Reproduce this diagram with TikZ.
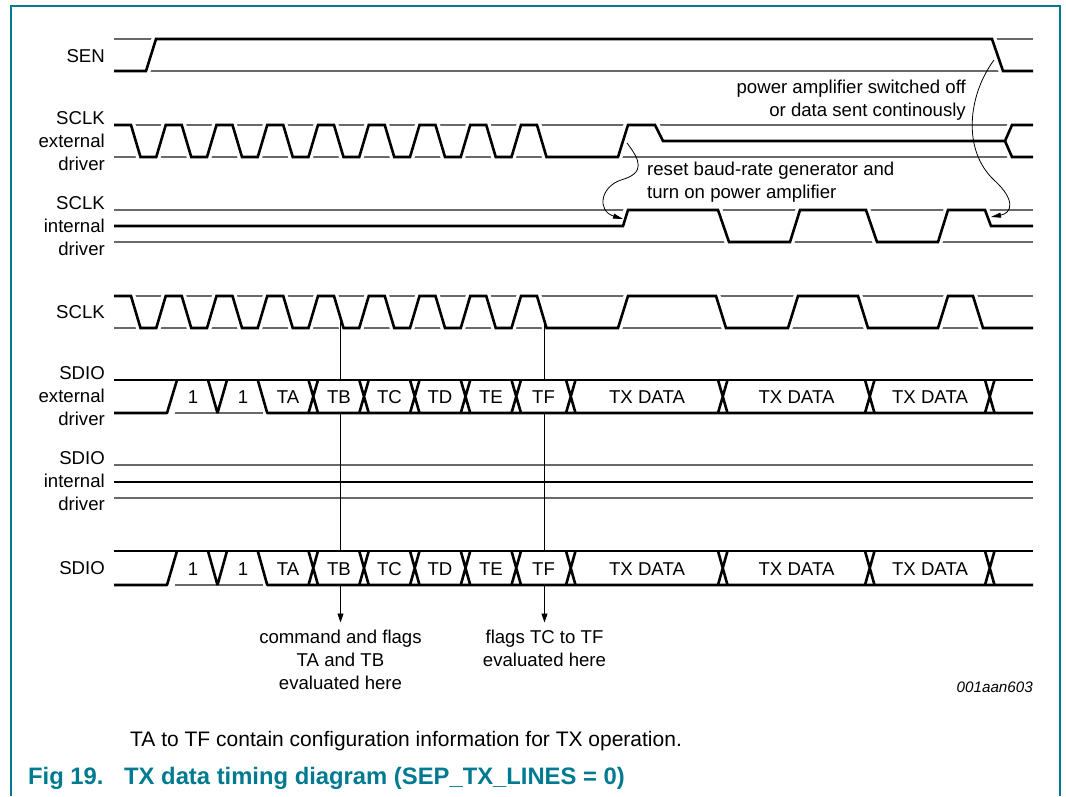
\documentclass[tikz,border=0pt]{standalone}
\usepackage{fontspec}
\setmainfont{Liberation Sans}
\usetikzlibrary{arrows.meta}
\definecolor{nxpteal}{RGB}{0,122,144}
\definecolor{refgray}{RGB}{105,105,105}
\begin{document}
\begin{tikzpicture}[x=1pt,y=-1pt,
  sig/.style={line width=2.6pt,line join=miter,preaction={draw=white,line width=9pt}},
  bus/.style={line width=2.6pt,line join=bevel},
  ref/.style={line width=1.1pt,draw=refgray},
  conn/.style={line width=0.9pt},
  lbl/.style={anchor=east,align=right,inner sep=0pt,font=\fontsize{18.6}{23}\selectfont},
  cell/.style={inner sep=0pt,font=\fontsize{18.6}{23}\selectfont},
  note/.style={inner sep=0pt,font=\fontsize{18.6}{23}\selectfont},
  downarrow/.style={conn,-{Triangle[length=9pt,width=6pt]}},
  curvearrow/.style={line width=0.8pt,-{Triangle[length=10pt,width=5pt]}}
]
\useasboundingbox (0,0) rectangle (1066,796);
% frame
\draw[nxpteal,line width=1.5pt] (11,796) -- (11,6) -- (1060,6) -- (1060,796);

% labels
\node[lbl] (lsen)   at (105,56)  {SEN};
\node[lbl] (lsclkx) at (105,141) {SCLK\\external\\driver};
\node[lbl] (lsclki) at (105,226) {SCLK\\internal\\driver};
\node[lbl] (lsclk)  at (105,312) {SCLK};
\node[lbl] (lsdiox) at (105,396) {SDIO\\external\\driver};
\node[lbl] (lsdioi) at (105,481) {SDIO\\internal\\driver};
\node[lbl] (lsdio)  at (105,568) {SDIO};

% SEN
\draw[ref] (114,39) -- (1033,39);
\draw[ref] (114,71) -- (1033,71);
\draw[sig] (114,71) -- (146,71) -- (156,39) -- (992,39) -- (1003,71) -- (1033,71);

% SCLK external driver
\draw[ref] (114,125) -- (1033,125);
\draw[ref] (114,157) -- (1033,157);
\draw[sig] (114,125) -- (131,125) -- (140.5,157) -- (156.25,157) -- (165.75,125)
  -- (181.75,125) -- (191.25,157) -- (207,157) -- (216.5,125)
  -- (232.5,125) -- (242,157) -- (257.75,157) -- (267.25,125)
  -- (283.25,125) -- (292.75,157) -- (308.5,157) -- (318,125)
  -- (334,125) -- (343.5,157) -- (359.25,157) -- (368.75,125)
  -- (384.75,125) -- (394.25,157) -- (410,157) -- (419.5,125)
  -- (435.5,125) -- (445,157) -- (460.75,157) -- (470.25,125)
  -- (486.25,125) -- (495.75,157) -- (511.5,157) -- (521,125)
  -- (537,125) -- (546.5,157) -- (618,157) -- (628,125) -- (655,125) -- (663,141)
  -- (1005,141) -- (1012,125) -- (1033,125)
  (1005,141) -- (1012,157) -- (1033,157);

% SCLK internal driver
\draw[ref] (114,210) -- (1033,210);
\draw[ref] (114,242) -- (1033,242);
\draw[sig] (114,226) -- (623,226) -- (628,210) -- (718,210) -- (729,242) -- (790,242)
  -- (800,210) -- (866,210) -- (877,242) -- (938,242) -- (948,210) -- (985,210)
  -- (991,226) -- (1033,226);

% SCLK
\draw[ref] (114,296) -- (1033,296);
\draw[ref] (114,328) -- (1033,328);
\draw[sig] (114,296) -- (131,296) -- (140.5,328) -- (156.25,328) -- (165.75,296)
  -- (181.75,296) -- (191.25,328) -- (207,328) -- (216.5,296)
  -- (232.5,296) -- (242,328) -- (257.75,328) -- (267.25,296)
  -- (283.25,296) -- (292.75,328) -- (308.5,328) -- (318,296)
  -- (334,296) -- (343.5,328) -- (359.25,328) -- (368.75,296)
  -- (384.75,296) -- (394.25,328) -- (410,328) -- (419.5,296)
  -- (435.5,296) -- (445,328) -- (460.75,328) -- (470.25,296)
  -- (486.25,296) -- (495.75,328) -- (511.5,328) -- (521,296)
  -- (537,296) -- (546.5,328) -- (618,328) -- (628,296) -- (716,296) -- (726,328)
  -- (788,328) -- (798,296) -- (858,296) -- (868,328) -- (938,328) -- (948,296)
  -- (973,296) -- (983,328) -- (1033,328);

% SDIO internal driver
\draw[ref] (114,465) -- (1033,465);
\draw[bus] (114,482) -- (1033,482);
\draw[ref] (114,498) -- (1033,498);

% SDIO buses
\foreach \n/\t/\b in {x/380/413, o/551/585} {
  \pgfmathsetmacro\m{(\t+\b)/2+1}
  \draw[ref] (175,\b) -- (263,\b);
  \draw[bus] (114,\t) -- (1033,\t);
  \draw[bus] (114,\b) -- (167,\b) -- (177,\t);
  \draw[bus] (208,\t) -- (217.5,\b) -- (227,\t);
  \draw[bus] (257.75,\t) -- (267.25,\b) -- (1033,\b);
  \foreach \x in {308.5,359.25,410,460.75,511.5,566,718,865,985} {
    \draw[bus] (\x,\t) -- (\x+9.5,\b) (\x,\b) -- (\x+9.5,\t);
  }
  \node[cell] (one\n)  at (193,\m) {1};
  \node[cell] (two\n)  at (243,\m) {1};
  \node[cell] (ta\n)   at (288,\m) {TA};
  \node[cell] (tb\n)   at (339,\m) {TB};
  \node[cell] (tc\n)   at (389.5,\m) {TC};
  \node[cell] (td\n)   at (440,\m) {TD};
  \node[cell] (te\n)   at (491,\m) {TE};
  \node[cell] (tf\n)   at (543.5,\m) {TF};
  \node[cell] (dA\n)   at (647,\m) {TX DATA};
  \node[cell] (dB\n)   at (796.5,\m) {TX DATA};
  \node[cell] (dC\n)   at (930,\m) {TX DATA};
}

% evaluation notes
\node[note,anchor=north,align=center] (cmd) at (340.5,630) {command and flags\\TA and TB\\evaluated here};
\node[note,anchor=north,align=center] (flg) at (544.5,630) {flags TC to TF\\evaluated here};

\coordinate (tbs) at (340.5,322);
\coordinate (tbx1) at (340.5,380);
\coordinate (tbx2) at (340.5,413);
\coordinate (tbo1) at (340.5,551);
\coordinate (tbo2) at (340.5,585);
\draw[conn] (tbs) -- (tbx1);
\draw[conn] (tbx2) -- (tbo1);
\draw[downarrow,shorten >=7.5pt] (tbo2) -- (cmd.north);

\coordinate (tfs) at (544.5,322);
\coordinate (tfx1) at (544.5,380);
\coordinate (tfx2) at (544.5,413);
\coordinate (tfo1) at (544.5,551);
\coordinate (tfo2) at (544.5,585);
\draw[conn] (tfs) -- (tfx1);
\draw[conn] (tfx2) -- (tfo1);
\draw[downarrow,shorten >=7.5pt] (tfo2) -- (flg.north);

% annotations
\node[note,anchor=east,align=right] (pwr) at (966,99.7) {power amplifier switched off\\or data sent continously};
\node[note,anchor=west,align=left] (rst) at (647,182.6) {reset baud-rate generator and\\turn on power amplifier};

\coordinate (a1s) at (627,143);
\coordinate (a1e) at (623,219);
\draw[curvearrow] (a1s) .. controls (640,160) and (646,173) .. (621,180)
  .. controls (600,187) and (597,211) .. (a1e);

\coordinate (a2s) at (994,60);
\coordinate (a2e) at (991,217);
\draw[curvearrow] (a2s) .. controls (968,95) and (962,150) .. (994,180)
  .. controls (1016,200) and (1012,213) .. (a2e);

% id
\node[anchor=base east,inner sep=0pt,font=\fontsize{15.2}{18}\selectfont\itshape] (fid) at (1033,692) {001aan603};

% body text and caption
\node[anchor=base west,inner sep=0pt,font=\fontsize{21}{25}\selectfont] (body) at (130,746) {TA to TF contain configuration information for TX operation.};
\node[anchor=base west,inner sep=0pt,font=\fontsize{23.8}{28}\selectfont\bfseries,text=nxpteal] (fign) at (28,784) {Fig 19.};
\node[anchor=base west,inner sep=0pt,font=\fontsize{23.8}{28}\selectfont\bfseries,text=nxpteal] (figt) at (124,784) {TX data timing diagram (SEP\_TX\_LINES = 0)};
\end{tikzpicture}
\end{document}
